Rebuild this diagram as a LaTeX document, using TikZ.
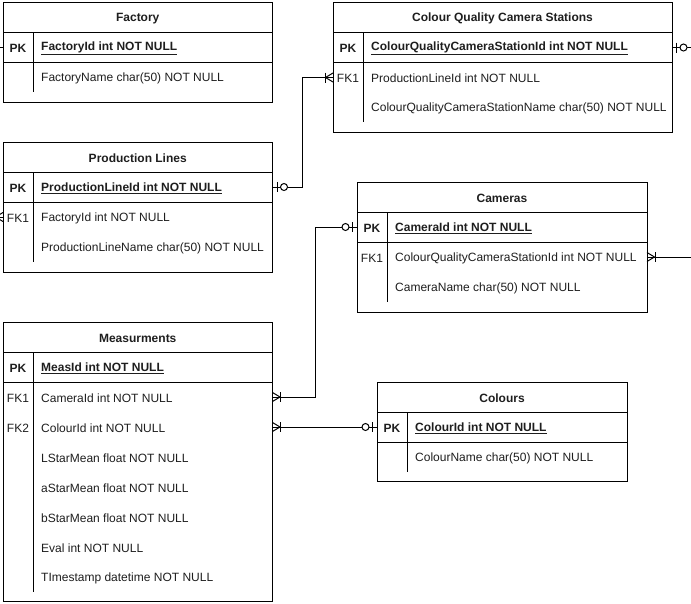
\documentclass[tikz,border=0pt]{standalone}
\usepackage{fontspec}
\setmainfont{Liberation Sans}
\definecolor{txt}{RGB}{30,30,30}
\begin{document}
\begin{tikzpicture}[x=1pt,y=-1pt,
  base/.style={font=\fontsize{12}{14}\selectfont, text=txt, inner sep=0, yshift=-1pt},
  box/.style={draw=black, line width=1pt, anchor=north west, inner sep=0, outer sep=0},
  rule/.style={draw=black, line width=1pt},
  title/.style={base, font=\fontsize{12}{14}\selectfont\bfseries},
  keytxt/.style={base},
  keybold/.style={base, font=\fontsize{12}{14}\selectfont\bfseries},
  fieldtxt/.style={base, anchor=west},
  pkfield/.style={base, anchor=west, font=\fontsize{12}{14}\selectfont\bfseries},
  row/.style={inner sep=0, outer sep=0, minimum height=30pt},
  link/.style={draw=black, line width=1pt},
  zeroone/.pic={\draw[link] (4.5,-5) -- (4.5,5); \draw[link, fill=white] (11.5,0) circle (3.5pt);},
  onemany/.pic={\draw[link] (0,-4.5) -- (7.5,0) -- (0,4.5); \draw[link] (8,-5) -- (8,5);}
]
\clip (0,0) rectangle (691,603);

% ---------- Factory ----------
\node[box, minimum width=269.5pt, minimum height=99.5pt] (factory) at (3,2.5) {};
\draw[rule] (3,32.5) -- (272.5,32.5);
\draw[rule] (3,62.5) -- (272.5,62.5);
\draw[rule] (33,32.5) -- (33,92);
\node[title] (factory-t) at (137.75,17.5) {Factory};
\node[row, minimum width=269.5pt] (fac-pk) at (137.75,47.5) {};
\node[keybold] (fac-pk-k) at (18,47.5) {PK};
\node[pkfield] (fac-pk-f) at (41,47.5) {\underline{FactoryId int NOT NULL}};
\node[fieldtxt] (fac-f1) at (41,77.5) {FactoryName char(50) NOT NULL};

% ---------- Colour Quality Camera Stations ----------
\node[box, minimum width=339pt, minimum height=129.5pt] (cqcs) at (333,2.5) {};
\draw[rule] (333,32.5) -- (672,32.5);
\draw[rule] (333,62.5) -- (672,62.5);
\draw[rule] (363,32.5) -- (363,122);
\node[title] (cq-t) at (502.5,17.5) {Colour Quality Camera Stations};
\node[row, minimum width=339pt] (cq-pk) at (502.5,47.5) {};
\node[row, minimum width=339pt] (cq-fk1) at (502.5,77.5) {};
\node[keybold] (cq-pk-k) at (348,47.5) {PK};
\node[pkfield] (cq-pk-f) at (371,47.5) {\underline{ColourQualityCameraStationId int NOT NULL}};
\node[keytxt] (cq-fk1-k) at (348,77.5) {FK1};
\node[fieldtxt] (cq-f1) at (371,77.5) {ProductionLineId int NOT NULL};
\node[fieldtxt] (cq-f2) at (371,107.5) {ColourQualityCameraStationName char(50) NOT NULL};

% ---------- Production Lines ----------
\node[box, minimum width=269.5pt, minimum height=130pt] (plines) at (3,142) {};
\draw[rule] (3,172) -- (272.5,172);
\draw[rule] (3,202) -- (272.5,202);
\draw[rule] (33,172) -- (33,262);
\node[title] (pl-t) at (137.75,157) {Production Lines};
\node[row, minimum width=269.5pt] (pl-pk) at (137.75,187) {};
\node[row, minimum width=269.5pt] (pl-fk1) at (137.75,217) {};
\node[keybold] (pl-pk-k) at (18,187) {PK};
\node[pkfield] (pl-pk-f) at (41,187) {\underline{ProductionLineId int NOT NULL}};
\node[keytxt] (pl-fk1-k) at (18,217) {FK1};
\node[fieldtxt] (pl-f1) at (41,217) {FactoryId int NOT NULL};
\node[fieldtxt] (pl-f2) at (41,247) {ProductionLineName char(50) NOT NULL};

% ---------- Cameras ----------
\node[box, minimum width=290pt, minimum height=130pt] (cameras) at (357,182) {};
\draw[rule] (357,212) -- (647,212);
\draw[rule] (357,242) -- (647,242);
\draw[rule] (387,212) -- (387,302);
\node[title] (cam-t) at (502,197) {Cameras};
\node[row, minimum width=290pt] (cam-pk) at (502,227) {};
\node[row, minimum width=290pt] (cam-fk1) at (502,257) {};
\node[keybold] (cam-pk-k) at (372,227) {PK};
\node[pkfield] (cam-pk-f) at (395,227) {\underline{CameraId int NOT NULL}};
\node[keytxt] (cam-fk1-k) at (372,257) {FK1};
\node[fieldtxt] (cam-f1) at (395,257) {ColourQualityCameraStationId int NOT NULL};
\node[fieldtxt] (cam-f2) at (395,287) {CameraName char(50) NOT NULL};

% ---------- Measurments ----------
\node[box, minimum width=269.5pt, minimum height=279.5pt] (meas) at (3,322) {};
\draw[rule] (3,352) -- (272.5,352);
\draw[rule] (3,382) -- (272.5,382);
\draw[rule] (33,352) -- (33,592);
\node[title] (me-t) at (137.75,337) {Measurments};
\node[row, minimum width=269.5pt] (me-pk) at (137.75,367) {};
\node[row, minimum width=269.5pt] (me-fk1) at (137.75,397) {};
\node[row, minimum width=269.5pt] (me-fk2) at (137.75,427) {};
\node[keybold] (me-pk-k) at (18,367) {PK};
\node[pkfield] (me-pk-f) at (41,367) {\underline{MeasId int NOT NULL}};
\node[keytxt] (me-fk1-k) at (18,397) {FK1};
\node[fieldtxt] (me-f1) at (41,397) {CameraId int NOT NULL};
\node[keytxt] (me-fk2-k) at (18,427) {FK2};
\node[fieldtxt] (me-f2) at (41,427) {ColourId int NOT NULL};
\node[fieldtxt] (me-f3) at (41,457) {LStarMean float NOT NULL};
\node[fieldtxt] (me-f4) at (41,487) {aStarMean float NOT NULL};
\node[fieldtxt] (me-f5) at (41,517) {bStarMean float NOT NULL};
\node[fieldtxt] (me-f6) at (41,547) {Eval int NOT NULL};
\node[fieldtxt] (me-f7) at (41,577) {TImestamp datetime NOT NULL};

% ---------- Colours ----------
\node[box, minimum width=250pt, minimum height=99.5pt] (colours) at (377,382) {};
\draw[rule] (377,412) -- (627,412);
\draw[rule] (377,442) -- (627,442);
\draw[rule] (407,412) -- (407,472);
\node[title] (col-t) at (502,397) {Colours};
\node[row, minimum width=250pt] (col-pk) at (502,427) {};
\node[keybold] (col-pk-k) at (392,427) {PK};
\node[pkfield] (col-pk-f) at (415,427) {\underline{ColourId int NOT NULL}};
\node[fieldtxt] (col-f1) at (415,457) {ColourName char(50) NOT NULL};

% ---------- free ends ----------
\coordinate (fac-out) at (0,47.5);
\coordinate (pl-out) at (0,217);
\coordinate (cq-out) at (691,47.5);
\coordinate (cam-out) at (691,257);

% ---------- connectors ----------
\draw[link] (pl-pk.east) -- ++(30,0) |- (cq-fk1.west);
\draw[link] (me-fk1.east) -- ++(42.5,0) |- (cam-pk.west);
\draw[link] (me-fk2.east) -- (col-pk.west);
\draw[link] (cq-pk.east) -- (cq-out);
\draw[link] (cam-fk1.east) -- (cam-out);
\draw[link] (fac-pk.west) -- (fac-out);
\draw[link] (pl-fk1.west) -- (pl-out);

% ---------- markers ----------
\pic at (pl-pk.east) {zeroone};
\pic[xscale=-1] at (cq-fk1.west) {onemany};
\pic at (cq-pk.east) {zeroone};
\pic at (cam-fk1.east) {onemany};
\pic at (me-fk1.east) {onemany};
\pic[xscale=-1] at (cam-pk.west) {zeroone};
\pic at (me-fk2.east) {onemany};
\pic[xscale=-1] at (col-pk.west) {zeroone};
\pic[xscale=-1] at (fac-pk.west) {zeroone};
\pic[xscale=-1] at (pl-fk1.west) {onemany};
\end{tikzpicture}
\end{document}
